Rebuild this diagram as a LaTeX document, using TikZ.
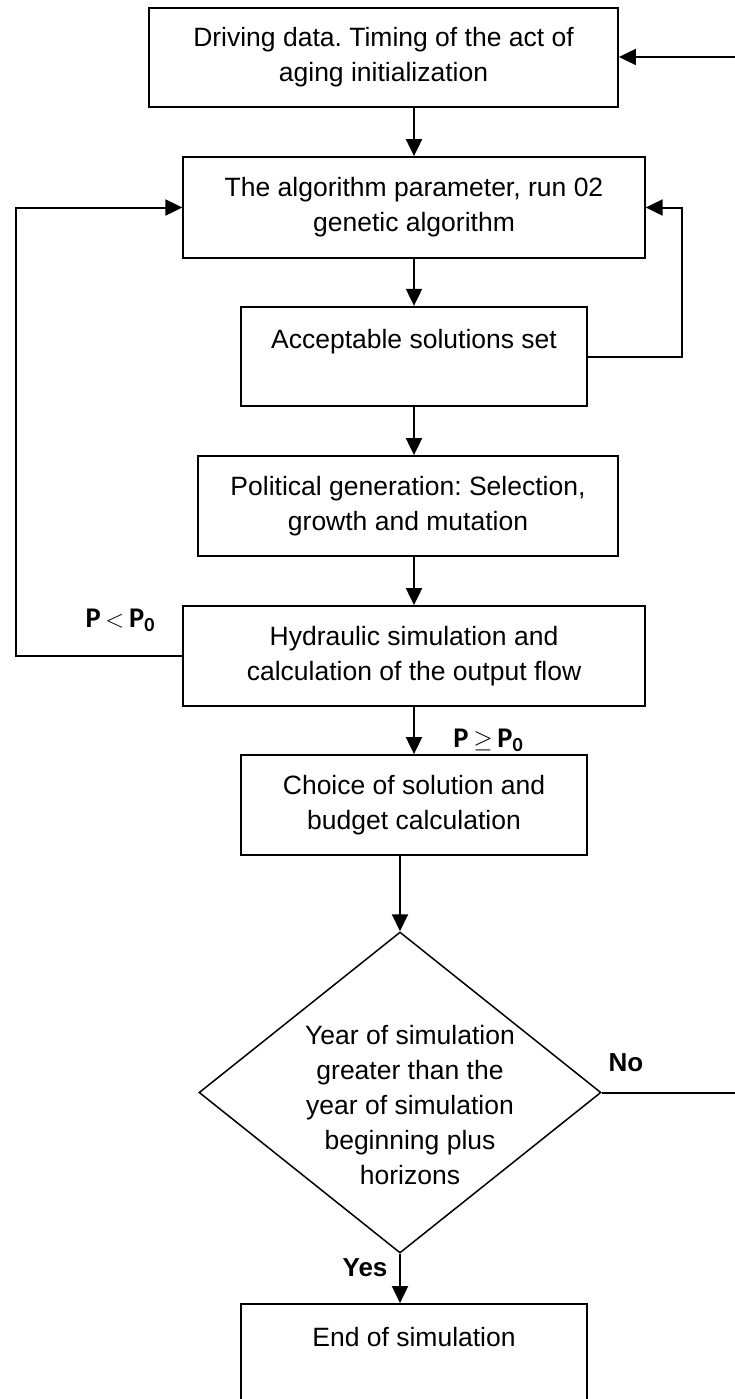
\documentclass[tikz,border=0pt]{standalone}
\usepackage{fontspec}
\setmainfont{Liberation Sans}
\newfontfamily\lblfont{Carlito}
\usetikzlibrary{shapes.geometric,arrows.meta}
\newcommand{\psub}[1]{\raisebox{-4pt}{\fontsize{20}{20}\selectfont #1}}
\frenchspacing
\begin{document}
\begin{tikzpicture}[x=1pt,y=-1pt,
  box/.style={draw,line width=1.8pt,rectangle,inner sep=0pt,align=center,
    font=\fontsize{26.5}{35}\selectfont},
  dia/.style={draw,line width=1.5pt,diamond,inner sep=0pt},
  diatext/.style={align=center,inner sep=0pt,font=\fontsize{26.5}{35}\selectfont},
  conn/.style={line width=2pt,-{Triangle[length=17pt,width=16pt]}},
  lbl/.style={inner sep=0pt,font=\fontsize{26}{30}\selectfont\bfseries},
  plbl/.style={inner sep=0pt,font=\lblfont\fontsize{28.5}{30}\selectfont\bfseries}]
\useasboundingbox (0,0) rectangle (734,1399);

\node[box,minimum width=469,minimum height=99] (b1) at (383.5,57.5)
  {Driving data. Timing of the act of\\aging initialization};
\node[box,minimum width=461.5,minimum height=101] (b2) at (414,207.5)
  {The algorithm parameter, run 02\\genetic algorithm};
\node[box,minimum width=346,minimum height=99.5] (b3) at (414,356.5)
  {Acceptable solutions set\\\mbox{}};
\node[box,minimum width=420,minimum height=100] (b4) at (408,506)
  {Political generation: Selection,\\growth and mutation};
\node[box,minimum width=461.5,minimum height=100] (b5) at (414,656)
  {Hydraulic simulation and\\calculation of the output flow};
\node[box,minimum width=346,minimum height=100] (b6) at (414,805)
  {Choice of solution and\\budget calculation};
\node[dia,minimum width=402,minimum height=321] (d) at (400,1092.5) {};
\node[diatext] (dt) at (410,1105)
  {Year of simulation\\greater than the\\year of simulation\\beginning plus\\horizons};
\node[box,minimum width=346,minimum height=100] (b7) at (414,1354)
  {End of simulation\\\mbox{}};

% labels
\node[plbl] (lless) at (120,620) {P\,$<$\,P\psub{0}};
\node[plbl] (lgeq) at (488,740) {P\,$\geq$\,P\psub{0}};
\node[lbl] (lno) at (626,1063) {No};
\node[lbl] (lyes) at (365,1268) {Yes};

% coordinates for loops
\coordinate (rb) at (736,1092.5);
\coordinate (rt) at (736,57);
\coordinate (lc) at (16,656);
\coordinate (rc) at (682,356.5);

% main flow
\draw[conn] (b2.north |- b1.south) -- (b2.north);
\draw[conn] (b2.south) -- (b3.north);
\draw[conn] (b3.south) -- (b3.south |- b4.north);
\draw[conn] (b5.north |- b4.south) -- (b5.north);
\draw[conn] (b5.south) -- (b6.north);
\draw[conn] (d.north |- b6.south) -- (d.north);
\draw[conn] (d.south) -- (d.south |- b7.north);

% loops
\draw[conn] (b3.east) -- (rc) |- (b2.east);
\draw[conn] (b5.west) -- (lc) |- (b2.west);
\draw[conn] (d.east) -- (rb) -- (rt) -- (b1.east |- rt);
\end{tikzpicture}
\end{document}
